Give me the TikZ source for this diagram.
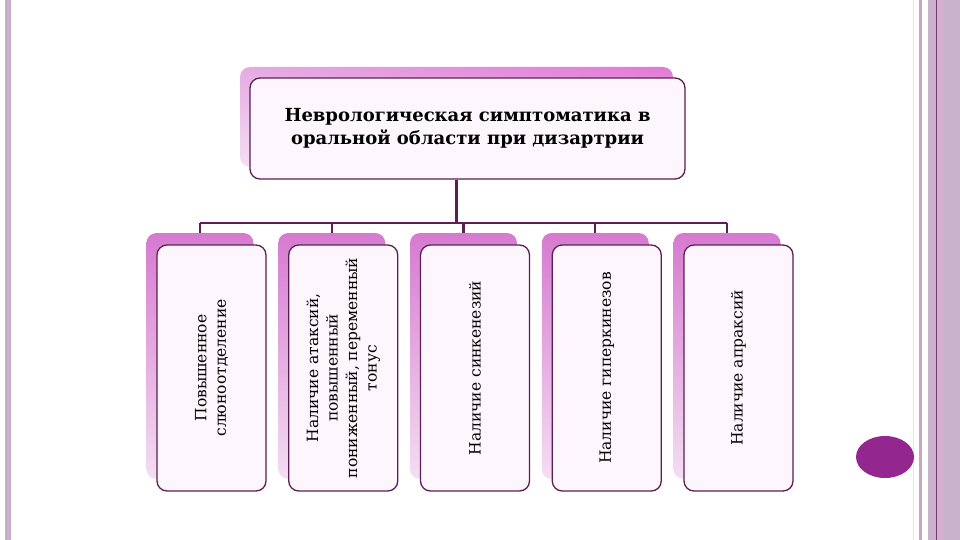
\documentclass[tikz,border=0pt]{standalone}
\usepackage{fontspec}
\setmainfont{DejaVu Serif}
\usetikzlibrary{positioning, calc, shadings}
\definecolor{myplum}{RGB}{92,30,84}
\definecolor{myorchid}{RGB}{214,122,208}
\definecolor{myrose}{RGB}{226,120,214}
\definecolor{mylilac}{RGB}{228,172,226}
\definecolor{mypale}{RGB}{244,222,242}
\definecolor{myface}{RGB}{253,246,253}
\definecolor{mymauve}{RGB}{201,178,203}
\definecolor{mymauvedk}{RGB}{122,58,106}
\definecolor{mymauvelt}{RGB}{212,176,208}
\definecolor{mythin}{RGB}{200,168,192}
\definecolor{myknob}{RGB}{147,39,143}
\tikzset{
  shadowbox/.style={rectangle, rounded corners=10pt, draw=none,
    top color=myorchid, bottom color=mypale,
    minimum width=107pt, minimum height=246pt},
  facebox/.style={rectangle, rounded corners=10pt, draw=myplum, fill=myface,
    line width=1.3pt, rotate=90, minimum width=246pt, minimum height=109pt,
    align=center, font=\fontsize{15.5}{19.5}\selectfont},
  titleshadow/.style={rectangle, rounded corners=10pt, draw=none,
    upper left=mylilac, upper right=myrose, lower left=mypale, lower right=mypale,
    minimum width=433pt, minimum height=100pt},
  titlebox/.style={rectangle, rounded corners=10pt, draw=myplum, fill=myface,
    line width=1.3pt, minimum width=435pt, minimum height=101pt,
    align=center, font=\fontsize{18}{23.5}\selectfont\bfseries},
  conn/.style={line width=2.2pt, color=myplum}
}
\begin{document}
\begin{tikzpicture}[x=1pt, y=-1pt]
  \fill[white] (0,0) rectangle (960,540);
  \useasboundingbox (0,0) rectangle (960,540);
  % Left page edge
  \fill[mymauve] (5,0) rectangle (11,540);
  \draw[mythin, line width=0.6pt] (6,0) -- (6,540) (10,0) -- (10,540);
  % Right page edge
  \fill[mymauve!40] (913,0) rectangle (914,540);
  \fill[mythin] (919,0) rectangle (922,540);
  \fill[mymauve] (928,0) rectangle (960,540);
  \fill[mymauvelt] (937,0) rectangle (943,540);
  \draw[mymauvedk, line width=1pt] (936,0) -- (936,540);
  % Title
  \node[titleshadow] (ts) at (456.5,117) {};
  \node[titlebox] (tt) at (467.5,128.5) {Неврологическая симптоматика в\\оральной области при дизартрии};
  % Symptom boxes
  \foreach \i/\txt in {1/{Повышенное\\слюноотделение},
      2/{Наличие атаксий,\\повышенный\\пониженный, переменный\\тонус},
      3/{Наличие синкенезий}, 4/{Наличие гиперкинезов}, 5/{Наличие апраксий}} {
    \pgfmathsetmacro\x{200+131.75*(\i-1)}
    \node[shadowbox] (s\i) at (\x,356) {};
    \node[facebox] (b\i) at (\x+11.5,368) {\txt};
  }
  % Connectors
  \coordinate (bus) at (0,223);
  \draw[conn] (ts.center |- tt.south) -- (ts.center |- bus);
  \draw[conn] (s1 |- bus) -- (s5 |- bus);
  \foreach \i in {1,...,5} \draw[conn] (s\i |- bus) -- (s\i.north);
  % Knob
  \fill[myknob] (885,457) ellipse (29 and 21);
\end{tikzpicture}
\end{document}
